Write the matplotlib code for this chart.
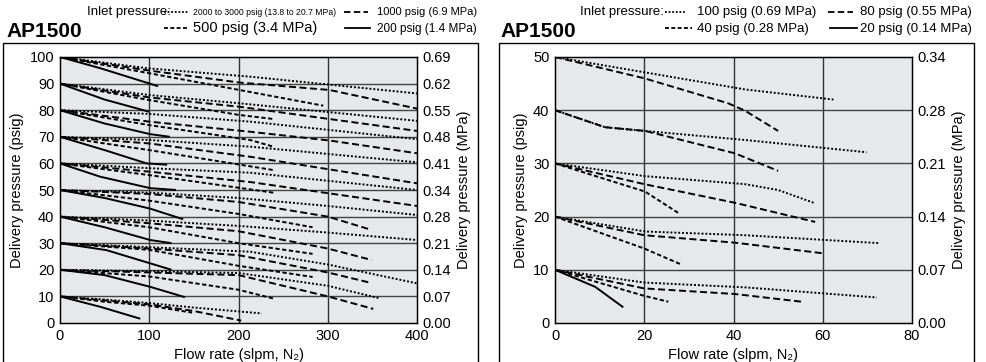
import matplotlib.pyplot as plt
from matplotlib.patches import Rectangle

plt.rcParams['font.family'] = ['Liberation Sans', 'DejaVu Sans']

# ---------------- left chart: inlet 2000-3000 / 1000 / 500 / 200 psig ----------------
# each entry: set pressure -> (flow slpm, delivery psig)
left_dot = {
    100: ([0, 100, 213, 400], [100, 95.7, 92.6, 86.3]),
    90: ([0, 100, 201, 400], [90, 85.7, 82.6, 76]),
    80: ([0, 100, 213, 400], [80, 78.6, 75.7, 69.1]),
    70: ([0, 100, 213, 400], [70, 68.8, 66.3, 60.4]),
    60: ([0, 100, 213, 400], [60, 58.2, 56.5, 50]),
    50: ([0, 100, 200, 300, 400], [50, 49, 47, 44, 40.6]),
    40: ([0, 100, 200, 300, 400], [40, 38.5, 36.5, 34, 31.2]),
    30: ([0, 100, 213, 300, 400], [30, 28.5, 26.8, 22, 14.9]),
    20: ([0, 100, 200, 300, 358], [20, 19.5, 18.8, 14, 9.3]),
    10: ([0, 50, 100, 150, 226], [10, 8.8, 7.5, 5.8, 3.6]),
}
left_1000 = {
    100: ([0, 100, 201, 302, 400], [100, 94.9, 90.4, 87.6, 80.6]),
    90: ([0, 100, 201, 400], [90, 84.8, 81.3, 72.2]),
    80: ([0, 100, 213, 302, 400], [80, 75.7, 71.9, 68.6, 63.8]),
    70: ([0, 100, 213, 400], [70, 67.5, 62.5, 52.5]),
    60: ([0, 100, 213, 400], [60, 56.9, 53, 44]),
    50: ([0, 100, 200, 300, 347], [50, 48.5, 45.5, 40, 35.2]),
    40: ([0, 100, 200, 300, 349], [40, 37.5, 34.5, 28, 23.7]),
    30: ([0, 100, 200, 300, 347], [30, 28, 25.5, 19, 15.2]),
    20: ([0, 100, 200, 300, 351], [20, 19, 18, 10, 5.3]),
    10: ([0, 50, 100, 150, 203], [10, 8.5, 7, 4.5, 0.9]),
}
left_500 = {
    100: ([0, 100, 201, 295], [100, 93.9, 87.6, 81.7]),
    90: ([0, 100, 201, 239], [90, 83.8, 78.2, 76.7]),
    80: ([0, 100, 213, 239], [80, 74.4, 68.8, 66.3]),
    70: ([0, 100, 239], [70, 65, 57.5]),
    60: ([0, 100, 239], [60, 55.6, 49]),
    50: ([0, 100, 200, 283], [50, 46, 41, 36]),
    40: ([0, 100, 200, 283], [40, 36, 30, 26]),
    30: ([0, 100, 200, 283], [30, 27.5, 21.5, 17.3]),
    20: ([0, 100, 200, 239], [20, 17.5, 12.5, 9.2]),
    10: ([0, 50, 100, 148], [10, 8, 6.5, 3.9]),
}
left_200 = {
    100: ([0, 45, 110], [100, 95.8, 89]),
    90: ([0, 50, 100], [90, 84, 79.4]),
    80: ([0, 50, 101, 123], [80, 75, 71, 70]),
    70: ([0, 50, 97, 120], [70, 65, 60, 59.5]),
    60: ([0, 45, 101, 130], [60, 55, 50.7, 50]),
    50: ([0, 50, 101, 138], [50, 47, 43, 39]),
    40: ([0, 50, 101, 125], [40, 36, 31.2, 30]),
    30: ([0, 52, 125], [30, 27.4, 20]),
    20: ([0, 50, 101, 140], [20, 18, 13.6, 9.7]),
    10: ([0, 45, 90], [10, 6.1, 1.6]),
}

# ---------------- right chart: inlet 100 / 80 / 40 / 20 psig ----------------
right_100 = {
    50: ([0, 20.2, 42.6, 62.4], [50, 47.1, 43.9, 42.0]),
    40: ([0, 11.2, 20.2, 42.6, 69.8], [40, 36.8, 36.1, 34.4, 32.1]),
    30: ([0, 20.2, 42.6, 50, 58.3], [30, 27.6, 26.1, 25, 22.5]),
    20: ([0, 20.2, 42.6, 72.8], [20, 17.2, 16.5, 15.0]),
    10: ([0, 20, 42.6, 72.1], [10, 7.6, 6.7, 4.8]),
}
right_80 = {
    50: ([0, 20, 38.8, 42.6, 50], [50, 46.0, 41.3, 39.9, 36.1]),
    40: ([0, 11.2, 20.2, 40.3, 50], [40, 36.8, 36.1, 31.9, 28.6]),
    30: ([0, 20, 40.3, 58.3], [30, 26.1, 22.6, 19.0]),
    20: ([0, 20, 40.3, 60.1], [20, 16.5, 15.1, 13.1]),
    10: ([0, 20, 40.3, 55.3], [10, 6.5, 5.45, 4.0]),
}
right_40 = {
    30: ([0, 20.2, 27.6], [30, 24.7, 20.7]),
    20: ([0, 20, 28], [20, 14.0, 11.1]),
    10: ([0, 20, 25.4], [10, 5.1, 4.0]),
}
right_20 = {
    10: ([0, 9, 15.3], [10, 6.8, 2.95]),
}

left_psig_ticks = [0, 10, 20, 30, 40, 50, 60, 70, 80, 90, 100]
left_mpa_labels = ['0.00', '0.07', '0.14', '0.21', '0.28', '0.34', '0.41', '0.48', '0.55', '0.62', '0.69']
right_psig_ticks = [0, 10, 20, 30, 40, 50]
right_mpa_labels = ['0.00', '0.07', '0.14', '0.21', '0.28', '0.34']

DOT = (0, (1, 1))
LDASH = (0, (3.6, 1.8))
SDASH = (0, (2.2, 1.3))
SOLID = '-'

W, H = 986, 362
fig = plt.figure(figsize=(W / 100, H / 100), dpi=100)


def px_box(x0, y0, x1, y1):
    return [x0 / W, 1 - y1 / H, (x1 - x0) / W, (y1 - y0) / H]


def setup_axes(rect, xmax, xticks, yticks, mpa_labels):
    ax = fig.add_axes(rect)
    ax.set_facecolor('#e7e8e9')
    ax.set_xlim(0, xmax)
    ax.set_ylim(0, yticks[-1])
    for v in xticks[1:-1]:
        ax.axvline(v, color='#333333', lw=1.0, zorder=1)
    for v in yticks[1:-1]:
        ax.axhline(v, color='#444444', lw=1.0, zorder=1)
    ax.set_xticks(xticks)
    ax.set_yticks(yticks)
    ax.tick_params(length=0, labelsize=10.5, pad=4)
    for s in ax.spines.values():
        s.set_linewidth(1.0)
    ax2 = ax.twinx()
    ax2.set_ylim(0, yticks[-1])
    ax2.set_yticks(yticks)
    ax2.set_yticklabels(mpa_labels)
    ax2.tick_params(length=0, labelsize=10.5, pad=4)
    ax.set_xlabel('Flow rate (slpm, N\u2082)', fontsize=10.5, labelpad=4)
    ax.set_ylabel('Delivery pressure (psig)', fontsize=10.5, labelpad=4)
    ax2.set_ylabel('Delivery pressure (MPa)', fontsize=10.5, labelpad=4)
    return ax


def draw(ax, series, style, lw):
    for k, (xs, ys) in series.items():
        ax.plot(xs, ys, color='black', lw=lw, linestyle=style, zorder=3,
                solid_capstyle='butt', dash_capstyle='butt')


axL = setup_axes(px_box(60, 57, 417, 323), 400, [0, 100, 200, 300, 400],
                 left_psig_ticks, left_mpa_labels)
draw(axL, left_dot, DOT, 1.4)
draw(axL, left_1000, LDASH, 1.4)
draw(axL, left_500, SDASH, 1.4)
draw(axL, left_200, SOLID, 1.4)

axR = setup_axes(px_box(555, 57, 912, 323), 80, [0, 20, 40, 60, 80],
                 right_psig_ticks, right_mpa_labels)
draw(axR, right_100, DOT, 1.4)
draw(axR, right_80, LDASH, 1.4)
draw(axR, right_40, SDASH, 1.4)
draw(axR, right_20, SOLID, 1.4)

# panel frames
for x0, x1 in [(3, 478), (499, 974)]:
    fig.add_artist(Rectangle((x0 / W, -0.1), (x1 - x0) / W, 1.1 - 42.7 / H,
                             transform=fig.transFigure, fill=False, lw=1.0, color='black'))


def fx(p):
    return p / W


def fy(p):
    return 1 - p / H


def sample(x0, x1, y, style):
    fig.add_artist(plt.Line2D([fx(x0), fx(x1)], [fy(y), fy(y)], transform=fig.transFigure,
                              color='black', lw=1.3, linestyle=style))


# titles and legends
fig.text(fx(6), fy(37), 'AP1500', fontsize=15, fontweight='bold', va='baseline')
fig.text(fx(500), fy(37), 'AP1500', fontsize=15, fontweight='bold', va='baseline')

# left legend
fig.text(fx(87), fy(15), 'Inlet pressure:', fontsize=9.5, va='baseline')
sample(164, 188, 12, DOT)
fig.text(fx(193), fy(15), '2000 to 3000 psig (13.8 to 20.7 MPa)', fontsize=6.2,
         va='baseline')
sample(344, 368, 12, LDASH)
fig.text(fx(377), fy(15), '1000 psig (6.9 MPa)', fontsize=8, va='baseline')
sample(164, 188, 28, SDASH)
fig.text(fx(193), fy(32), '500 psig (3.4 MPa)', fontsize=10.5, va='baseline')
sample(345, 370, 28, SOLID)
fig.text(fx(377), fy(32), '200 psig (1.4 MPa)', fontsize=8.5, va='baseline')

# right legend
fig.text(fx(580), fy(15), 'Inlet pressure:', fontsize=9.5, va='baseline')
sample(665, 686, 12, DOT)
fig.text(fx(697), fy(15), '100 psig (0.69 MPa)', fontsize=9.5, va='baseline')
sample(828, 853, 12, LDASH)
fig.text(fx(860), fy(15), '80 psig (0.55 MPa)', fontsize=9.5, va='baseline')
sample(665, 692, 28, SDASH)
fig.text(fx(697), fy(32), '40 psig (0.28 MPa)', fontsize=9.5, va='baseline')
sample(830, 857, 28, SOLID)
fig.text(fx(860), fy(32), '20 psig (0.14 MPa)', fontsize=9.5, va='baseline')

fig.savefig('out.png', dpi=100)
